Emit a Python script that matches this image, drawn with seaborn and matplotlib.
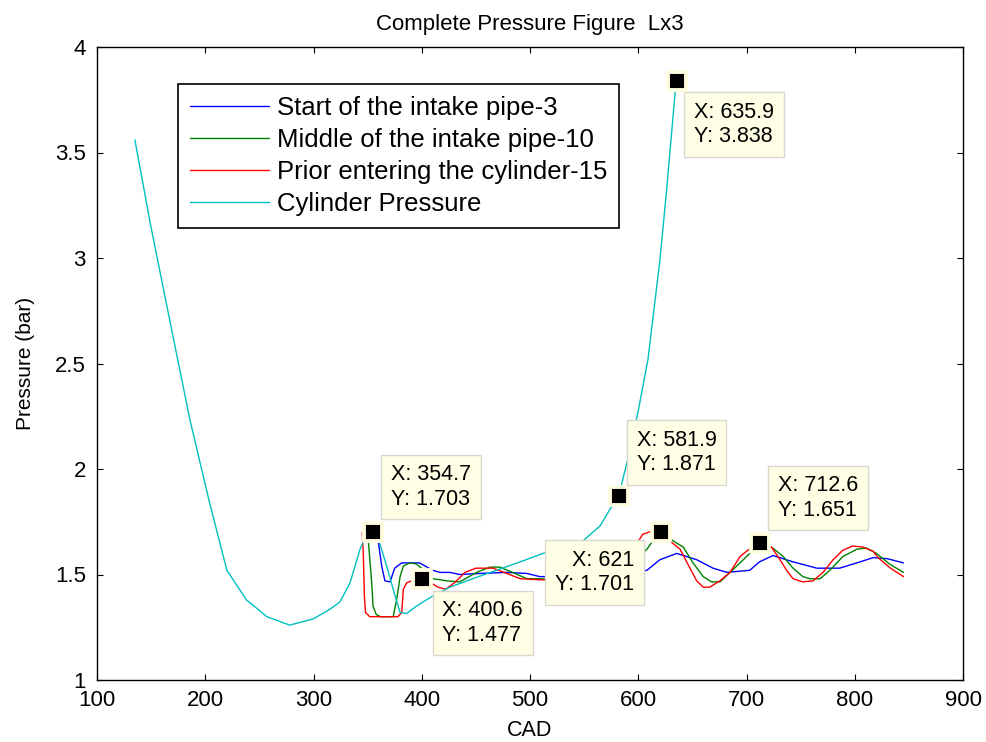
import numpy as np
import pandas as pd
import matplotlib
matplotlib.use("Agg")
import matplotlib.pyplot as plt
import seaborn as sns

# ---------------- data ----------------
cyl_cad = [135, 149, 167, 186, 204, 220, 238, 257, 278, 300, 315, 324.5, 333.7, 343, 349,
           354.7, 361, 367.6, 373.6, 380, 386, 395, 407.6, 426, 447, 469, 491, 512, 530,
           549, 564.7, 574, 581.9, 590, 599.8, 609, 620, 626, 634, 635.9]
cyl_p = [3.56, 3.17, 2.71, 2.23, 1.84, 1.52, 1.38, 1.30, 1.26, 1.29, 1.335, 1.37, 1.46, 1.62, 1.69,
         1.703, 1.65, 1.54, 1.43, 1.32, 1.315, 1.35, 1.39, 1.44, 1.48, 1.52, 1.56, 1.60, 1.63,
         1.66, 1.73, 1.81, 1.871, 2.04, 2.27, 2.52, 2.99, 3.31, 3.78, 3.838]

blue_cad = [352, 357, 360, 363, 366, 370.7, 375, 381.5, 398, 410, 417, 426, 435, 454, 478,
            497, 509, 530, 560, 590, 608, 620, 635.5, 654, 669, 682, 703, 712, 724.5, 743,
            765, 786, 805, 817, 830, 845]
blue_p = [1.70, 1.69, 1.65, 1.54, 1.47, 1.465, 1.53, 1.555, 1.555, 1.52, 1.51, 1.51, 1.50, 1.505, 1.51,
          1.505, 1.49, 1.49, 1.49, 1.505, 1.52, 1.57, 1.60, 1.57, 1.53, 1.51, 1.52, 1.56, 1.59, 1.56,
          1.53, 1.53, 1.56, 1.58, 1.575, 1.555]

green_cad = [350, 353.8, 355, 358, 362, 373.6, 376.8, 380, 383, 389, 395, 402, 410, 417, 423,
             435, 450.7, 463, 472, 484, 497, 509, 540, 570, 590, 600, 608, 615, 621, 632,
             641.6, 650.6, 660, 667.7, 675.5, 684.8, 694, 703, 712, 717, 723, 734, 743, 752,
             758.6, 768, 777, 789, 802, 811, 820, 832, 845]
green_p = [1.70, 1.46, 1.35, 1.31, 1.30, 1.30, 1.38, 1.49, 1.54, 1.555, 1.55, 1.52, 1.48, 1.475, 1.47,
           1.465, 1.51, 1.535, 1.535, 1.51, 1.48, 1.48, 1.475, 1.49, 1.53, 1.58, 1.62, 1.67, 1.701, 1.66,
           1.63, 1.555, 1.49, 1.465, 1.465, 1.51, 1.555, 1.60, 1.635, 1.645, 1.63, 1.585, 1.53, 1.49,
           1.48, 1.48, 1.52, 1.585, 1.62, 1.625, 1.60, 1.55, 1.51]

red_cad = [345, 346, 347, 348, 352, 378, 381.5, 383, 386, 395, 405, 415, 422, 430, 440, 450,
           466, 478.5, 491, 509, 540, 565, 585, 598, 604, 612, 621, 629, 638.6, 647.8, 654,
           660, 666, 675.5, 684.8, 694, 700, 712, 723, 731, 737, 743, 752, 761.5, 770.7, 780,
           789, 798, 807.6, 817, 821.5, 833, 845]
red_p = [1.70, 1.60, 1.40, 1.32, 1.30, 1.30, 1.32, 1.43, 1.46, 1.48, 1.47, 1.44, 1.43, 1.46, 1.51, 1.53,
         1.53, 1.505, 1.48, 1.475, 1.47, 1.49, 1.55, 1.64, 1.69, 1.705, 1.69, 1.66, 1.62, 1.53, 1.47,
         1.44, 1.44, 1.47, 1.51, 1.585, 1.61, 1.655, 1.63, 1.57, 1.52, 1.48, 1.465, 1.47, 1.51, 1.57,
         1.615, 1.635, 1.63, 1.61, 1.58, 1.53, 1.49]

series_names = ["Start of the intake pipe-3", "Middle of the intake pipe-10",
                "Prior entering the cylinder-15", "Cylinder Pressure"]
series_colors = ["#0000FF", "#008000", "#FF0000", "#00BFBF"]

tip_x = [354.7, 400.6, 581.9, 621, 712.6, 635.9]
tip_y = [1.703, 1.477, 1.871, 1.701, 1.651, 3.838]
tip_labels = ["X: 354.7\nY: 1.703", "X: 400.6\nY: 1.477", "X: 581.9\nY: 1.871",
              "X: 621\nY: 1.701", "X: 712.6\nY: 1.651", "X: 635.9\nY: 3.838"]

x_ticks = [100, 200, 300, 400, 500, 600, 700, 800, 900]
y_ticks = [1, 1.5, 2, 2.5, 3, 3.5, 4]
y_tick_labels = ["1", "1.5", "2", "2.5", "3", "3.5", "4"]

# ---------------- style ----------------
sns.set_style("ticks")
plt.rcParams["font.family"] = ["Liberation Sans", "DejaVu Sans"]
plt.rcParams["text.color"] = "black"
plt.rcParams["axes.labelcolor"] = "black"
plt.rcParams["xtick.color"] = "black"
plt.rcParams["ytick.color"] = "black"

W, H = 986, 742
fig = plt.figure(figsize=(W / 100, H / 100), dpi=100)
ax = fig.add_axes([97 / W, 1 - 680 / H, 866 / W, 633 / H])

frames = []
for name, xs, ys in zip(series_names,
                        [blue_cad, green_cad, red_cad, cyl_cad],
                        [blue_p, green_p, red_p, cyl_p]):
    frames.append(pd.DataFrame({"CAD": xs, "P": ys, "series": name}))
df = pd.concat(frames, ignore_index=True)

sns.lineplot(data=df, x="CAD", y="P", hue="series", hue_order=series_names,
             palette=series_colors, estimator=None, sort=False, linewidth=1.0,
             ax=ax, legend=True)

# data tips
tips = pd.DataFrame({"x": tip_x, "y": tip_y})
sns.scatterplot(data=tips, x="x", y="y", marker="s", s=160, color="black",
                edgecolor="#FFFDE0", linewidth=2.8, ax=ax, zorder=5, legend=False)

p = 10  # pad in pixels
offsets = [((8 + p, 12 + p), "left", "bottom"),
           ((10 + p, -(11 + p)), "left", "top"),
           ((8 + p, 11 + p), "left", "bottom"),
           ((-(17 + p), -(8 + p)), "right", "top"),
           ((8 + p, 12 + p), "left", "bottom"),
           ((7 + p, -(11 + p)), "left", "top")]
for (xv, yv, lab, (off, ha, va)) in zip(tip_x, tip_y, tip_labels, offsets):
    ax.annotate(lab, xy=(xv, yv), xytext=off, textcoords="offset pixels",
                ha=ha, va=va, fontsize=15.5, linespacing=1.2, zorder=6,
                bbox=dict(boxstyle="square,pad=0.45", facecolor="#FFFFE6",
                          edgecolor="#D8D8D0", linewidth=1.0))

ax.set_xlim(100, 900)
ax.set_ylim(1, 4)
ax.set_xticks(x_ticks)
ax.set_xticklabels([str(v) for v in x_ticks])
ax.set_yticks(y_ticks)
ax.set_yticklabels(y_tick_labels)
ax.tick_params(direction="in", top=True, right=True, length=4, width=0.8,
               labelsize=16, colors="black")
ax.tick_params(axis="x", pad=7)
ax.tick_params(axis="y", pad=8)
for sp in ax.spines.values():
    sp.set_visible(True)
    sp.set_linewidth(1.0)
    sp.set_color("black")

ax.set_xlabel("CAD", fontsize=15.5, labelpad=7)
ax.set_ylabel("Pressure (bar)", fontsize=15, labelpad=14)
ax.set_title("Complete Pressure Figure  Lx3", fontsize=16, pad=12)

leg = ax.legend(loc="upper left", bbox_to_anchor=((178 - 97) / 866, (680 - 84) / 633),
                borderaxespad=0, frameon=True, fancybox=False, fontsize=18.5,
                handlelength=3.1, handletextpad=0.32, labelspacing=0.32,
                borderpad=0.45, edgecolor="black", title=None)
leg.get_frame().set_linewidth(1.2)
leg.get_frame().set_alpha(1)
for line in leg.get_lines():
    line.set_linewidth(1.0)

fig.savefig("out.png", dpi=100)
